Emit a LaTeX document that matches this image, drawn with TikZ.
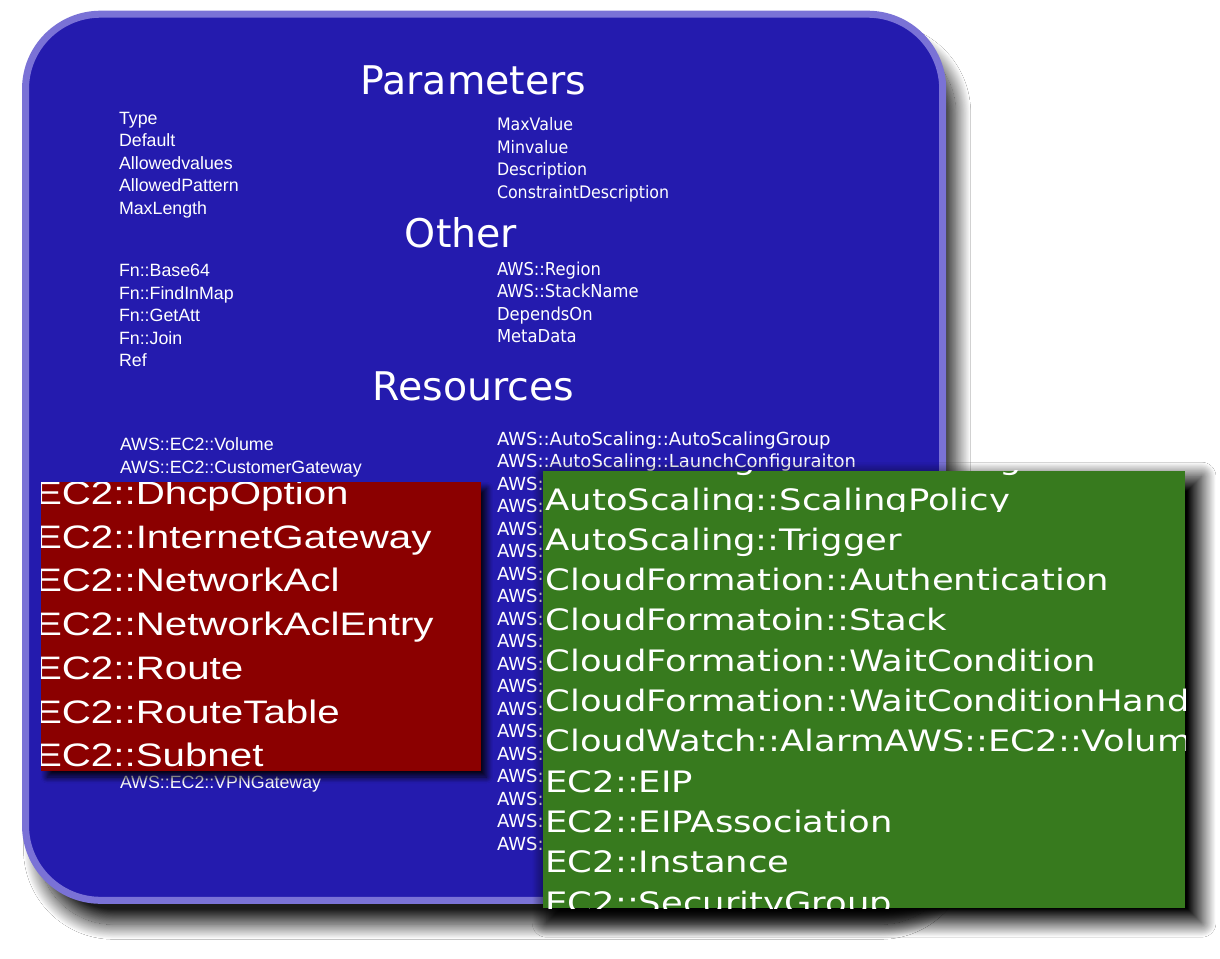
\documentclass[tikz,border=0pt]{standalone}
\usepackage{fontspec}
\newfontfamily\headfont{DejaVu Sans}
\newfontfamily\listfont{Liberation Sans}
\newfontfamily\narrowfont{DejaVu Sans}[FakeStretch=0.92]
\newfontfamily\redfont{Liberation Sans}[FakeStretch=1.24]
\newfontfamily\greenfont{DejaVu Sans}[FakeStretch=1.2]
\usetikzlibrary{positioning}
\usetikzlibrary{shadows.blur}
\definecolor{panelblue}{RGB}{36,27,174}
\definecolor{panelrim}{RGB}{122,114,214}
\definecolor{ecred}{RGB}{139,0,0}
\definecolor{asgreen}{RGB}{55,122,30}

\begin{document}
\begin{tikzpicture}[x=1pt,y=-1pt,every node/.style={inner sep=0,outer sep=0,text=white},
    head/.style={anchor=base,font=\headfont\fontsize{39.5}{46}\selectfont},
    lcol/.style={anchor=base west,font=\listfont\fontsize{17.8}{20}\selectfont},
    rcol/.style={anchor=base west,font=\narrowfont\fontsize{17.2}{20}\selectfont},
    rcolwide/.style={anchor=base west,font=\narrowfont\fontsize{17.8}{20}\selectfont},
    rcolres/.style={anchor=base west,font=\headfont\fontsize{18}{20}\selectfont},
    redrow/.style={anchor=base west,font=\redfont\fontsize{32.5}{38}\selectfont},
    greenrow/.style={anchor=base west,font=\greenfont\fontsize{29.5}{35}\selectfont},
    next/.style={below=22.5pt of #1.base west,anchor=base west},
    nextred/.style={below=43.7pt of #1.base west,anchor=base west},
    nextgreen/.style={below=40.3pt of #1.base west,anchor=base west}]
    \useasboundingbox (0,0) rectangle (1220,958);
    \fill[white] (0,0) rectangle (1220,958);

    % template panel
    \draw[fill=panelblue,draw=panelrim,line width=7pt,rounded corners=75pt,
        blur shadow={shadow xshift=13pt,shadow yshift=-24pt,shadow blur radius=15pt,shadow blur steps=40,shadow opacity=90}]
        (25.5,14.2) rectangle (942.7,900.3);

    \node[head] (params) at (473.4,94) {Parameters};
    \node[lcol] (ptype) at (119,124.3) {Type};
    \node[lcol,next=ptype] (pdefault) {Default};
    \node[lcol,next=pdefault] (pallowed) {Allowedvalues};
    \node[lcol,next=pallowed] (ppattern) {AllowedPattern};
    \node[lcol,next=ppattern] (pmaxlen) {MaxLength};
    \node[rcol] (pmaxval) at (497,130.7) {MaxValue};
    \node[rcol,next=pmaxval] (pminval) {Minvalue};
    \node[rcol,next=pminval] (pdesc) {Description};
    \node[rcol,next=pdesc] (pconstr) {ConstraintDescription};

    \node[head] (other) at (461,247.3) {Other};
    \node[lcol] (fbase) at (119,276.7) {Fn::Base64};
    \node[lcol,next=fbase] (ffind) {Fn::FindInMap};
    \node[lcol,next=ffind] (fgetatt) {Fn::GetAtt};
    \node[lcol,next=fgetatt] (fjoin) {Fn::Join};
    \node[lcol,next=fjoin] (fref) {Ref};
    \node[rcolwide] (oregion) at (497,275) {AWS::Region};
    \node[rcolwide,next=oregion] (ostack) {AWS::StackName};
    \node[rcolwide,next=ostack] (odepends) {DependsOn};
    \node[rcolwide,next=odepends] (ometa) {MetaData};

    \node[head] (resources) at (473.4,400) {Resources};
    \node[lcol] (rvolume) at (120,450.7) {AWS::EC2::Volume};
    \node[lcol,next=rvolume] (rcustgw) {AWS::EC2::CustomerGateway};
    \node[lcol] (rvpngw) at (120,788.3) {AWS::EC2::VPNGateway};
    \node[rcolres] (rasgroup) at (497,445) {AWS::AutoScaling::AutoScalingGroup};
    \node[rcolres,next=rasgroup] (raslaunch) {AWS::AutoScaling::LaunchConfiguraiton};
    \foreach \k in {2,...,18}
        \node[rcolres] (raws\k) at (497,445+22.5*\k) {AWS::};

    % EC2 overlay
    \fill[ecred,blur shadow={shadow xshift=6pt,shadow yshift=-6pt,shadow blur radius=6pt,shadow blur steps=20,shadow opacity=90}]
        (41,482.3) rectangle (480.7,771);
    \begin{scope}
        \clip (41,482.3) rectangle (480.7,771);
        \node[redrow] (edhcp) at (35,504.5) {EC2::DhcpOption};
        \node[redrow,nextred=edhcp] (eigw) {EC2::InternetGateway};
        \node[redrow,nextred=eigw] (eacl) {EC2::NetworkAcl};
        \node[redrow,nextred=eacl] (eaclentry) {EC2::NetworkAclEntry};
        \node[redrow,nextred=eaclentry] (eroute) {EC2::Route};
        \node[redrow,nextred=eroute] (etable) {EC2::RouteTable};
        \node[redrow,nextred=etable] (esubnet) {EC2::Subnet};
    \end{scope}

    % AutoScaling / CloudFormation overlay
    \fill[asgreen,blur shadow={shadow scale=1.02,shadow xshift=10pt,shadow yshift=-10pt,shadow blur radius=14pt,shadow blur steps=40,shadow opacity=100}]
        (542.7,470.7) rectangle (1185,908.3);
    \begin{scope}
        \clip (542.7,470.7) rectangle (1185,908.3);
        \node[greenrow] (glaunch) at (545.5,469.7) {AutoScaling::LaunchConfiguraiton};
        \begin{scope}
            \clip (530,470) rectangle (1200,511);
            \node[greenrow,nextgreen=glaunch] (gpolicy) {AutoScaling::ScalingPolicy};
        \end{scope}
        \node[greenrow,nextgreen=gpolicy] (gtrigger) {AutoScaling::Trigger};
        \node[greenrow,nextgreen=gtrigger] (gauth) {CloudFormation::Authentication};
        \node[greenrow,nextgreen=gauth] (gstack) {CloudFormatoin::Stack};
        \node[greenrow,nextgreen=gstack] (gwait) {CloudFormation::WaitCondition};
        \node[greenrow,nextgreen=gwait] (gwaithandle) {CloudFormation::WaitConditionHandle};
        \node[greenrow,nextgreen=gwaithandle] (galarm) {CloudWatch::AlarmAWS::EC2::Volume};
        \node[greenrow,nextgreen=galarm] (geip) {EC2::EIP};
        \node[greenrow,nextgreen=geip] (geipassoc) {EC2::EIPAssociation};
        \node[greenrow,nextgreen=geipassoc] (ginstance) {EC2::Instance};
        \node[greenrow,nextgreen=ginstance] (gsecgroup) {EC2::SecurityGroup};
    \end{scope}
\end{tikzpicture}
\end{document}
